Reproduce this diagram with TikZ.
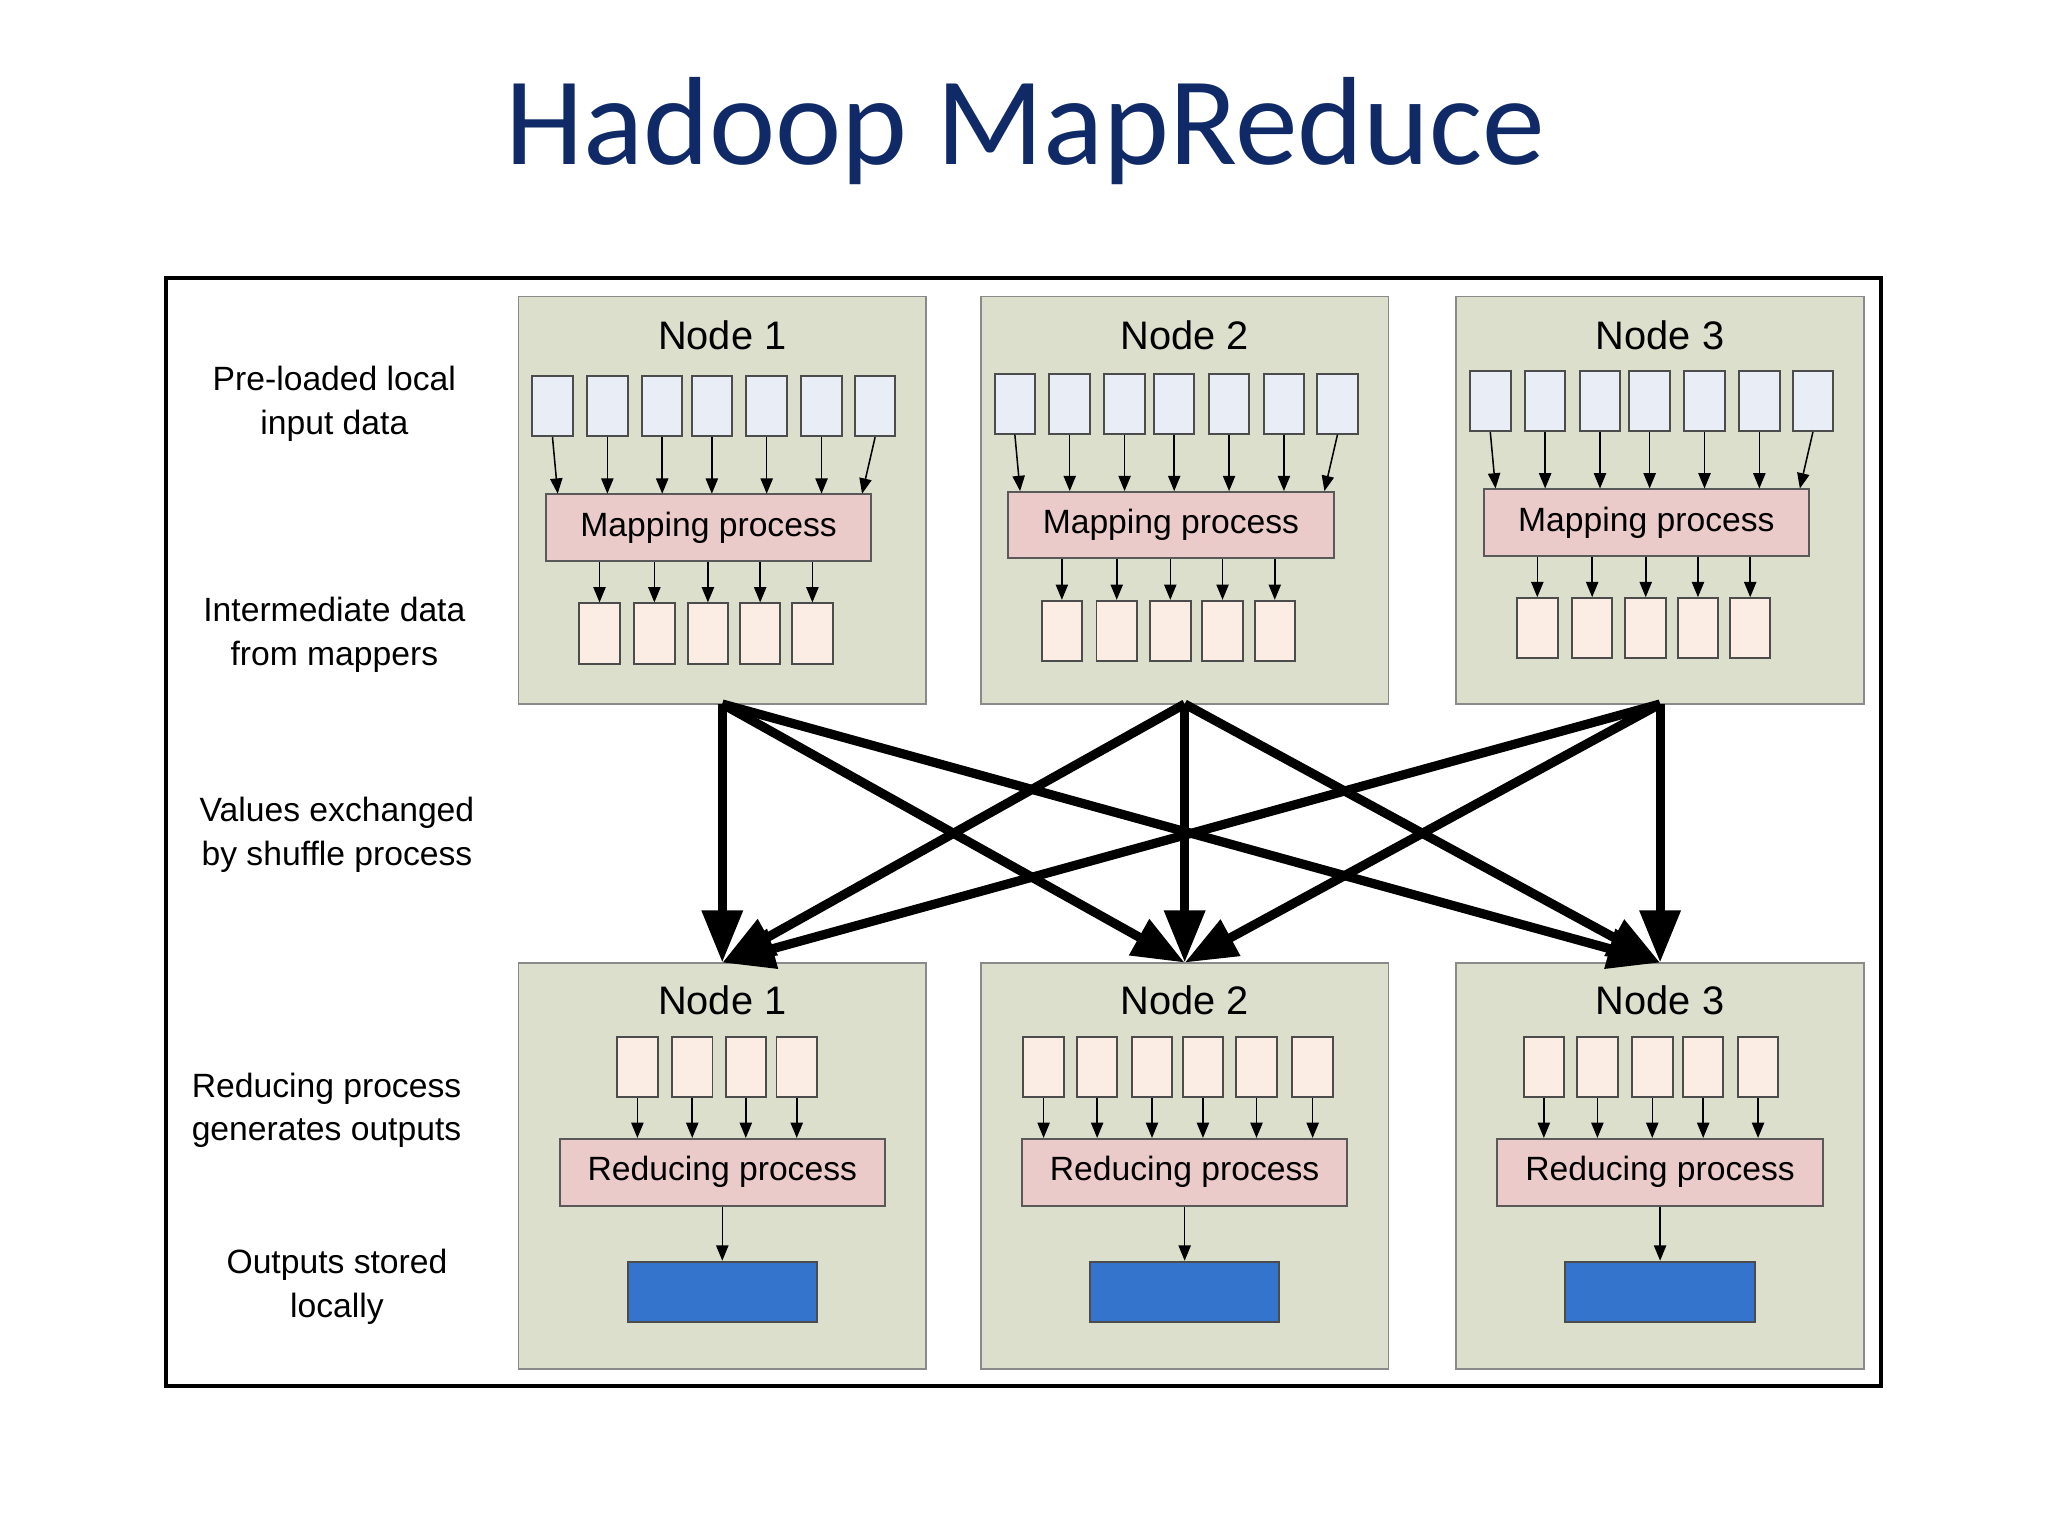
\documentclass[tikz,border=0pt]{standalone}
\usepackage{fontspec}
\setmainfont{Liberation Sans}
\newfontfamily\titlefont{Carlito}
\usetikzlibrary{arrows.meta}
\definecolor{nodefill}{HTML}{DCDFCB}
\definecolor{nodeline}{HTML}{8A8A8A}
\definecolor{infill}{HTML}{E9EDF5}
\definecolor{procfill}{HTML}{EBCBC9}
\definecolor{midfill}{HTML}{FCEDE4}
\definecolor{outfill}{HTML}{3574CC}
\definecolor{titlecol}{HTML}{0F2A66}
\begin{document}
\begin{tikzpicture}[x=0.03cm,y=-0.03cm,
  box/.style={draw=nodeline,line width=1.2pt,fill=nodefill},
  sq/.style={draw=black!70,line width=1.3pt,minimum width=0.93cm,minimum height=1.38cm,inner sep=0pt},
  insq/.style={sq,fill=infill},
  midsq/.style={sq,fill=midfill},
  proc/.style={draw=black!65,line width=1.3pt,fill=procfill,minimum width=7.47cm,minimum height=1.53cm,inner sep=0pt,font=\fontsize{22}{26}\selectfont},
  outb/.style={draw=black!70,line width=1.3pt,fill=outfill,minimum width=4.35cm,minimum height=1.38cm,inner sep=0pt},
  sa/.style={-{Triangle[length=10pt,width=8pt]},line width=1pt},
  big/.style={-{Triangle[length=1.2cm,width=0.9cm]},line width=6pt},
  lab/.style={align=center,font=\fontsize{22}{28.5}\selectfont},
  ntitle/.style={font=\fontsize{26}{30}\selectfont}]
\useasboundingbox (0,0) rectangle (1568,1176);
\fill[white] (0,0) rectangle (1568,1176);
\node (title) [titlecol,font=\titlefont\fontsize{82}{94}\selectfont] at (785,100) {Hadoop MapReduce};
\draw[line width=2.6pt] (127,213) rectangle (1440,1061);
% left labels
\node[lab] (l1) at (256,309) {Pre-loaded local\\input data};
\node[lab] (l2) at (256,486) {Intermediate data\\from mappers};
\node[lab] (l3) at (258,639) {Values exchanged\\by shuffle process};
\node[lab] (l4) at (250,850) {Reducing process\\generates outputs};
\node[lab] (l5) at (258,985) {Outputs stored\\locally};
% top nodes
\foreach \k/\dx/\dy in {1/0/0,2/354/-2,3/718/-4}{
  \begin{scope}[xshift=\dx*0.03cm]
  \draw[box] (397,227) rectangle (709,539);
  \node[ntitle] (tn\k) at (553,257) {Node \k};
  \begin{scope}[yshift=-\dy*0.03cm]
  \node[proc] (map\k) at (542.5,404) {Mapping process};
  \foreach \i/\x in {1/423,2/465,3/507,4/545,5/587,6/629,7/670}{
    \node[insq] (in\k\i) at (\x,311) {};}
  \foreach \i/\x in {1/427,2/465,3/507,4/545,5/587,6/629,7/660}{
    \draw[sa] (in\k\i.south) -- (\x,378);}
  \foreach \i/\x in {1/459,2/501,3/542,4/582,5/622}{
    \node[midsq] (mid\k\i) at (\x,485) {};
    \draw[sa] (map\k.south -| mid\k\i) -- (mid\k\i.north);}
  \end{scope}
  \coordinate (src\k) at (553,539);
  \coordinate (dst\k) at (553,737);
  \end{scope}}
% bottom nodes
\foreach \k/\dx/\lst in {1/0/{488,530,571,610},2/354/{445,486,528,567,608,651},3/718/{464,505,547,586,628}}{
  \begin{scope}[xshift=\dx*0.03cm]
  \draw[box] (397,737) rectangle (709,1048);
  \node[ntitle] (bn\k) at (553,766) {Node \k};
  \node[proc] (red\k) at (553,897.5) {Reducing process};
  \foreach \x in \lst{
    \node[midsq] (rs\x) at (\x,817) {};
    \draw[sa] (rs\x.south) -- (red\k.north -| rs\x);}
  \node[outb] (out\k) at (553,989) {};
  \draw[sa] (red\k.south) -- (out\k.north);
  \end{scope}}
% shuffle
\foreach \s in {1,2,3}{\foreach \d in {1,2,3}{
  \draw[big] (src\s) -- (dst\d);}}
\end{tikzpicture}
\end{document}
